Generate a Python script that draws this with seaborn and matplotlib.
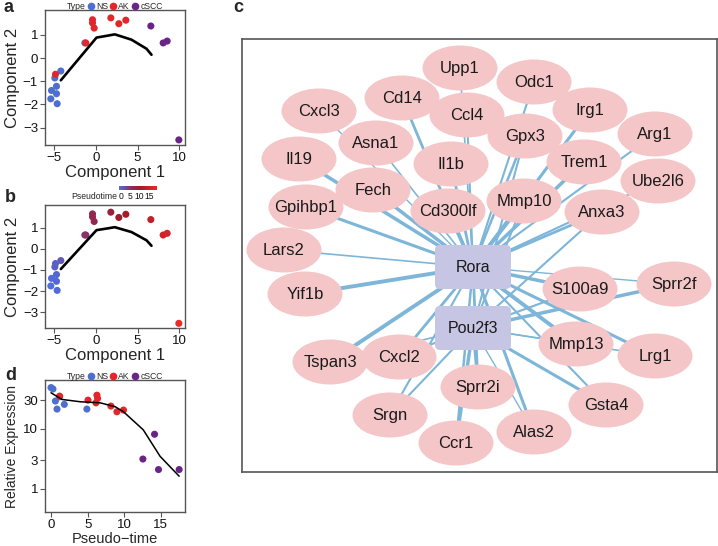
import numpy as np
import pandas as pd
import matplotlib as mpl
mpl.use('Agg')
import matplotlib.pyplot as plt
import seaborn as sns
from matplotlib.lines import Line2D
from matplotlib.patches import Ellipse, FancyBboxPatch
from matplotlib.colors import LinearSegmentedColormap

# ---- panel a / b : cells in reduced space ----
comp1 = [-4.2, -4.92, -4.72, -5.32, -4.72, -5.4, -4.64, -1.32,
         -4.84, -1.2, -0.4, -0.4, -0.2, 1.8, 2.76, 3.6,
         6.6, 8.08, 8.56, 9.96]
comp2 = [-0.56, -0.86, -1.22, -1.40, -1.54, -1.76, -1.97, 0.65,
         -0.70, 0.65, 1.65, 1.51, 1.29, 1.73, 1.48, 1.63,
         1.38, 0.65, 0.73, -3.53]
cell_type = ['NS', 'NS', 'NS', 'NS', 'NS', 'NS', 'NS', 'NS',
             'AK', 'AK', 'AK', 'AK', 'AK', 'AK', 'AK', 'AK',
             'cSCC', 'cSCC', 'cSCC', 'cSCC']
pseudotime = [1.8, 1.1, 0.8, 0.3, 0.6, 0.0, 0.3, 4.9,
              1.2, 5.0, 6.1, 6.3, 6.4, 8.2, 9.0, 9.9,
              12.6, 14.1, 14.7, 17.5]
traj_x = [-4.2, 0.08, 1.2, 2.28, 4.28, 6.08, 6.68]
traj_y = [-0.96, 0.88, 0.95, 1.02, 0.79, 0.40, 0.14]

# ---- panel d : expression along pseudotime ----
d_time = [0.0, 0.27, 0.6, 0.82, 1.82, 4.9, 1.15,
          1.18, 5.05, 6.27, 6.36, 6.14, 8.18, 9.0, 9.9,
          12.55, 14.14, 14.68, 17.5]
d_expr = [48.6, 46.0, 29.0, 21.3, 25.5, 21.3, 34.0,
          35.0, 30.0, 36.3, 32.0, 27.0, 23.9, 19.2, 20.5,
          3.13, 8.1, 2.09, 2.09]
d_type = ['NS'] * 7 + ['AK'] * 8 + ['cSCC'] * 4
smooth_x = [0.0, 1.5, 4.0, 6.7, 8.77, 9.9, 12.6, 14.9, 17.5]
smooth_y = [39.8, 30.8, 28.2, 27.1, 23.3, 19.2, 9.6, 3.47, 1.62]

# ---- panel c : regulatory network ----
hubs = ['Rora', 'Pou2f3']
genes = ['Upp1', 'Odc1', 'Cd14', 'Cxcl3', 'Ccl4', 'Irg1', 'Arg1', 'Asna1',
         'Gpx3', 'Il19', 'Il1b', 'Trem1', 'Ube2l6', 'Fech', 'Gpihbp1',
         'Cd300lf', 'Mmp10', 'Anxa3', 'Lars2', 'Yif1b', 'S100a9', 'Sprr2f',
         'Tspan3', 'Cxcl2', 'Mmp13', 'Lrg1', 'Sprr2i', 'Gsta4', 'Srgn',
         'Alas2', 'Ccr1']
rora_weight = [1.2, 1.5, 2.0, 1.0, 1.5, 2.2, 1.5, 1.2,
               1.8, 2.5, 2.0, 2.5, 1.5, 2.5, 2.2,
               2.5, 2.8, 2.0, 1.2, 2.8, 2.5, 1.0,
               2.8, 2.0, 2.8, 2.2, 2.0, 1.5, 1.5,
               2.2, 1.8]
pou2f3_targets = ['Cxcl2', 'Tspan3', 'Srgn', 'Ccr1', 'Sprr2i', 'Alas2', 'Gsta4',
                  'Mmp13', 'Lrg1', 'S100a9', 'Sprr2f', 'Anxa3', 'Mmp10', 'Gpx3']
pou2f3_weight = [1.5, 1.2, 1.5, 2.5, 2.0, 1.0, 2.2,
                 1.0, 1.2, 1.5, 2.5, 1.5, 1.5, 1.5]

# layout (figure pixel space, as exported from the network tool)
layout = {
    'Upp1': (460, 68), 'Odc1': (534, 82), 'Cd14': (402, 98), 'Cxcl3': (319, 111),
    'Ccl4': (467, 115), 'Irg1': (590, 110), 'Arg1': (655, 134), 'Asna1': (376, 143),
    'Gpx3': (525, 136), 'Il19': (299, 159), 'Il1b': (451, 164), 'Trem1': (584, 162),
    'Ube2l6': (658, 181), 'Fech': (373, 190), 'Gpihbp1': (306, 207),
    'Cd300lf': (448, 211), 'Mmp10': (524, 201), 'Anxa3': (602, 212),
    'Lars2': (284, 250), 'Yif1b': (305, 294), 'S100a9': (580, 289),
    'Sprr2f': (674, 284), 'Tspan3': (330, 362), 'Cxcl2': (399, 357),
    'Mmp13': (576, 344), 'Lrg1': (655, 356), 'Sprr2i': (478, 387),
    'Gsta4': (606, 405), 'Srgn': (390, 415), 'Alas2': (534, 432),
    'Ccr1': (456, 443), 'Rora': (473, 267), 'Pou2f3': (473, 328),
}

type_order = ['NS', 'AK', 'cSCC']
type_colors = {'NS': '#4d6fcf', 'AK': '#e3262a', 'cSCC': '#6a2488'}
pt_cmap = LinearSegmentedColormap.from_list(
    'pt', [(0, '#4f6ee0'), (0.33, '#8e2a58'), (0.55, '#a01c28'), (1, '#f02828')])

sns.set_theme(style='white')
plt.rcParams['font.family'] = ['Liberation Sans', 'DejaVu Sans']
plt.rcParams['axes.edgecolor'] = '#555555'
plt.rcParams['xtick.color'] = '#555555'
plt.rcParams['ytick.color'] = '#555555'
plt.rcParams['xtick.labelcolor'] = '#111111'
plt.rcParams['ytick.labelcolor'] = '#111111'

W, H = 718, 546
fig = plt.figure(figsize=(W / 100, H / 100), dpi=100)


def px_axes(x0, y0, x1, y1):
    return fig.add_axes([x0 / W, 1 - y1 / H, (x1 - x0) / W, (y1 - y0) / H])


def style_axes(ax):
    for s in ax.spines.values():
        s.set_linewidth(1.0)
    ax.tick_params(axis='both', which='both', direction='out', length=3.5, width=0.8,
                   labelsize=9.5, pad=1.5, bottom=True, left=True, top=False, right=False)


def type_legend(ax):
    handles = [Line2D([], [], linestyle='none', marker='', label='Type')]
    for t in type_order:
        handles.append(Line2D([], [], linestyle='none', marker='o', markersize=4.5,
                              color=type_colors[t], label=t))
    ax.legend(handles=handles, ncol=4, loc='lower center', bbox_to_anchor=(0.47, 0.99),
              frameon=False, fontsize=6.2, handletextpad=0.3, columnspacing=0.3,
              handlelength=0.6, borderpad=0.05, borderaxespad=0.0)


df_cells = pd.DataFrame({'c1': comp1, 'c2': comp2, 'type': cell_type, 'pt': pseudotime})

# panel a
ax_a = px_axes(45, 10, 185, 145)
sns.scatterplot(data=df_cells, x='c1', y='c2', hue='type', palette=type_colors,
                s=26, linewidth=0, legend=False, ax=ax_a)
sns.lineplot(x=traj_x, y=traj_y, sort=False, color='black', lw=1.9, ax=ax_a)
ax_a.set_xlim(-6.1, 10.7)
ax_a.set_ylim(-3.75, 2.07)
ax_a.set_xticks([-5, 0, 5, 10])
ax_a.set_yticks([-3, -2, -1, 0, 1])
ax_a.set_xlabel('Component 1', fontsize=12, labelpad=1)
ax_a.set_ylabel('Component 2', fontsize=12, labelpad=2)
style_axes(ax_a)
type_legend(ax_a)

# panel b
ax_b = px_axes(45, 205, 185, 328)
sns.scatterplot(data=df_cells, x='c1', y='c2', hue='pt', palette=pt_cmap,
                hue_norm=(0, 17.5), s=26, linewidth=0, legend=False, ax=ax_b)
sns.lineplot(x=traj_x, y=traj_y, sort=False, color='black', lw=1.9, ax=ax_b)
ax_b.set_xlim(-6.1, 10.7)
ax_b.set_ylim(-3.75, 2.07)
ax_b.set_xticks([-5, 0, 5, 10])
ax_b.set_yticks([-3, -2, -1, 0, 1])
ax_b.set_xlabel('Component 1', fontsize=12, labelpad=1)
ax_b.set_ylabel('Component 2', fontsize=12, labelpad=2)
style_axes(ax_b)

cax = px_axes(119, 186, 157, 190)
cb = fig.colorbar(mpl.cm.ScalarMappable(norm=mpl.colors.Normalize(-1, 19.3), cmap=pt_cmap),
                  cax=cax, orientation='horizontal', ticks=[0, 5, 10, 15])
cb.outline.set_visible(False)
cax.tick_params(length=0, labelsize=6.2, pad=1.5, labelcolor='#111111')
fig.text(117 / W, 1 - 196 / H, 'Pseudotime', fontsize=6.2, ha='right', va='center')

# panel d
ax_d = px_axes(45, 380, 185, 512)
df_d = pd.DataFrame({'t': d_time, 'e': d_expr, 'type': d_type})
sns.scatterplot(data=df_d, x='t', y='e', hue='type', palette=type_colors,
                s=26, linewidth=0, legend=False, ax=ax_d)
sns.lineplot(x=smooth_x, y=smooth_y, sort=False, color='black', lw=1.1, ax=ax_d)
ax_d.set_yscale('log')
ax_d.set_ylim(0.41, 65)
ax_d.set_xlim(-0.82, 18.3)
ax_d.set_xticks([0, 5, 10, 15])
ax_d.set_yticks([1, 3, 10, 30])
ax_d.set_yticklabels(['1', '3', '10', '30'])
ax_d.yaxis.set_minor_locator(mpl.ticker.NullLocator())
ax_d.set_xlabel('Pseudo\u2212time', fontsize=10.5, labelpad=1)
ax_d.set_ylabel('Relative Expression', fontsize=10, labelpad=3)
style_axes(ax_d)
type_legend(ax_d)

# panel c
ax_c = px_axes(242, 39, 717, 472)
ax_c.set_xlim(242, 717)
ax_c.set_ylim(472, 39)
ax_c.set_xticks([])
ax_c.set_yticks([])
for s in ax_c.spines.values():
    s.set_linewidth(1.2)
    s.set_color('#555555')

edge_color = '#7db6d8'
for g, w in zip(genes, rora_weight):
    (x0, y0), (x1, y1) = layout['Rora'], layout[g]
    ax_c.plot([x0, x1], [y0, y1], color=edge_color, lw=w, zorder=1, solid_capstyle='butt')
for g, w in zip(pou2f3_targets, pou2f3_weight):
    (x0, y0), (x1, y1) = layout['Pou2f3'], layout[g]
    ax_c.plot([x0, x1], [y0, y1], color=edge_color, lw=w, zorder=1, solid_capstyle='butt')

for g in genes:
    ax_c.add_patch(Ellipse(layout[g], 75, 45, facecolor='#f4c6c8', edgecolor='none', zorder=2))
for h in hubs:
    x, y = layout[h]
    ax_c.add_patch(FancyBboxPatch((x - 38, y - 22), 76, 44,
                                  boxstyle='round,pad=0,rounding_size=5',
                                  facecolor='#c6c5e4', edgecolor='none', zorder=3))
for g in genes + hubs:
    x, y = layout[g]
    ax_c.text(x, y, g, ha='center', va='center', fontsize=12 if g in genes else 11.5,
              color='#1a1a1a', zorder=4)

# panel letters
for lab, x, y in [('a', 3, 8), ('b', 5, 198), ('d', 5, 375), ('c', 233, 8)]:
    fig.text(x / W, 1 - y / H, lab, fontsize=13, fontweight='bold', ha='left', va='center')

fig.savefig('out.png', dpi=100)
